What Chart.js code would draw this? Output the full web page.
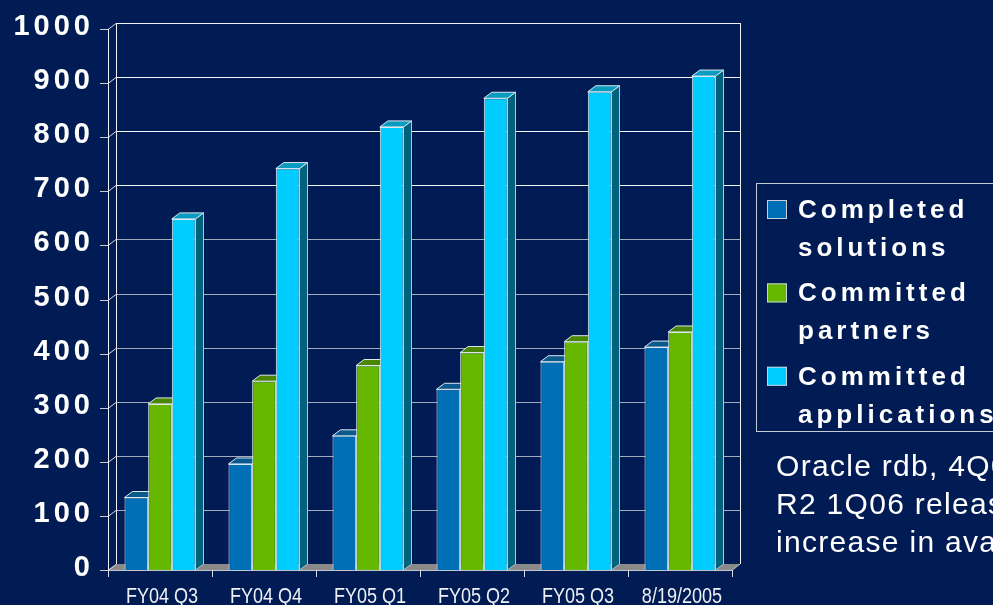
<!DOCTYPE html>
<html>
<head>
<meta charset="utf-8">
<script src="https://cdn.jsdelivr.net/npm/chart.js@4/dist/chart.umd.min.js"></script>
<style>
html,body{margin:0;padding:0;background:#011c54;overflow:hidden}
canvas{display:block}
</style>
</head>
<body>
<canvas id="c" width="993" height="605"></canvas>
<script>
// ---- data ----
const CATEGORIES = ['FY04 Q3', 'FY04 Q4', 'FY05 Q1', 'FY05 Q2', 'FY05 Q3', '8/19/2005'];
const COMPLETED_SOLUTIONS = [134, 196, 248, 334, 385, 412];
const COMMITTED_PARTNERS = [307, 349, 378, 402, 422, 440];
const COMMITTED_APPLICATIONS = [649, 742, 819, 872, 884, 913];
const Y_TICKS = [0, 100, 200, 300, 400, 500, 600, 700, 800, 900, 1000];
const SERIES_NAMES = ['Completed solutions', 'Committed partners', 'Committed applications'];
const LEGEND_LINES = [['Completed', 'solutions'], ['Committed', 'partners'], ['Committed', 'applications']];
const NOTE_LINES = ['Oracle rdb, 4Q05', 'R2 1Q06 release', 'increase in available'];

// ---- style ----
const BG = '#011c54';
const FRONT = ['#006fb5', '#66b700', '#00ccff'];
const TOPC = ['#0a5a8e', '#4a8600', '#0a9cc0'];
const SIDE = ['#04507f', '#3f7400', '#00627c'];
const DX = 8, DY = 6;

const threeD = {
  id: 'threeD',
  beforeDraw(chart) {
    const ctx = chart.ctx;
    ctx.save();
    ctx.fillStyle = BG;
    ctx.fillRect(0, 0, chart.width, chart.height);
    ctx.restore();
  },
  beforeDatasetsDraw(chart) {
    const ctx = chart.ctx;
    const ys = chart.scales.y;
    const L = chart.chartArea.left, R = chart.chartArea.right;
    const y0 = ys.getPixelForValue(0), yT = ys.getPixelForValue(1000);
    ctx.save();
    // floor
    ctx.fillStyle = '#8a8a8a';
    ctx.beginPath();
    ctx.moveTo(L, y0); ctx.lineTo(L + DX, y0 - DY); ctx.lineTo(R + DX, y0 - DY); ctx.lineTo(R, y0);
    ctx.closePath(); ctx.fill();
    // gridlines on back wall
    ctx.lineWidth = 1;
    Y_TICKS.forEach(v => {
      const py = Math.round(ys.getPixelForValue(v)) + 0.5;
      ctx.strokeStyle = v >= 700 ? '#f4f6fa' : '#a4abbd';
      if (v > 0) {
        ctx.beginPath(); ctx.moveTo(L + DX, py - DY); ctx.lineTo(R + DX, py - DY); ctx.stroke();
      }
      ctx.strokeStyle = '#d8dce6';
      ctx.beginPath(); ctx.moveTo(L, py); ctx.lineTo(L + DX, py - DY); ctx.stroke();
      ctx.strokeStyle = '#c8ccd6';
      ctx.beginPath(); ctx.moveTo(L - 8, py); ctx.lineTo(L, py); ctx.stroke();
    });
    // wall edges
    ctx.strokeStyle = '#f0f2f6';
    const bl = Math.round(L + DX) + 0.5, br = Math.round(R + DX) + 0.5, fl = Math.round(L) + 0.5;
    ctx.beginPath();
    ctx.moveTo(bl, yT - DY); ctx.lineTo(bl, y0 - DY);
    ctx.moveTo(bl, Math.round(yT - DY) + 0.5); ctx.lineTo(br, Math.round(yT - DY) + 0.5);
    ctx.moveTo(br, yT - DY); ctx.lineTo(br, y0 - DY);
    ctx.moveTo(fl, yT); ctx.lineTo(fl, y0);
    ctx.stroke();
    // floor front edge
    ctx.strokeStyle = '#c0c4cc';
    ctx.beginPath();
    ctx.moveTo(L, Math.round(y0) + 0.5); ctx.lineTo(R, Math.round(y0) + 0.5); ctx.lineTo(R + DX, y0 - DY);
    ctx.stroke();
    // x tick marks at category boundaries
    const xs = chart.scales.x;
    const step = xs.getPixelForValue(1) - xs.getPixelForValue(0);
    ctx.strokeStyle = '#d8dce6';
    for (let i = 0; i <= CATEGORIES.length; i++) {
      const px = Math.round(xs.getPixelForValue(0) - step / 2 + i * step) + 0.5;
      ctx.beginPath(); ctx.moveTo(px, y0); ctx.lineTo(px, y0 + 7); ctx.stroke();
    }
    // 3D tops and sides of bars (fronts drawn by Chart.js afterwards)
    chart.data.datasets.forEach((ds, di) => {
      const meta = chart.getDatasetMeta(di);
      meta.data.forEach(bar => {
        const p = bar.getProps(['x', 'y', 'width', 'base'], true);
        const l = p.x - p.width / 2, r = p.x + p.width / 2, t = p.y, b = p.base;
        ctx.fillStyle = SIDE[di];
        ctx.beginPath();
        ctx.moveTo(r, t); ctx.lineTo(r + DX, t - DY); ctx.lineTo(r + DX, b - DY); ctx.lineTo(r, b);
        ctx.closePath(); ctx.fill();
        ctx.strokeStyle = '#b8c4d0'; ctx.stroke();
        ctx.fillStyle = TOPC[di];
        ctx.beginPath();
        ctx.moveTo(l, t); ctx.lineTo(l + DX, t - DY); ctx.lineTo(r + DX, t - DY); ctx.lineTo(r, t);
        ctx.closePath(); ctx.fill();
        ctx.strokeStyle = '#dfe7ef'; ctx.stroke();
      });
    });
    ctx.restore();
  },
  afterDraw(chart) {
    const ctx = chart.ctx;
    const xs = chart.scales.x, ys = chart.scales.y;
    ctx.save();
    // y tick labels
    ctx.fillStyle = '#ffffff';
    ctx.font = 'bold 29px "Liberation Sans", Arial, sans-serif';
    ctx.letterSpacing = '4px';
    ctx.textAlign = 'right';
    ctx.textBaseline = 'alphabetic';
    Y_TICKS.forEach(v => {
      ctx.fillText(String(v), 94, ys.getPixelForValue(v) + 6);
    });
    // x category labels (narrow)
    ctx.letterSpacing = '0px';
    ctx.font = '22px "Liberation Sans", Arial, sans-serif';
    ctx.fillStyle = '#eef1f6';
    ctx.textAlign = 'center';
    CATEGORIES.forEach((c, i) => {
      ctx.save();
      ctx.translate(xs.getPixelForValue(i) + 2, 603);
      ctx.scale(0.82, 1);
      ctx.fillText(c, 0, 0);
      ctx.restore();
    });
    // legend
    ctx.strokeStyle = '#c4cad6';
    ctx.lineWidth = 1;
    ctx.strokeRect(756.5, 183.5, 300, 248);
    ctx.font = 'bold 26px "Liberation Sans", Arial, sans-serif';
    ctx.letterSpacing = '4px';
    ctx.textAlign = 'left';
    LEGEND_LINES.forEach((lines, i) => {
      const by = 218 + i * 83.4;
      ctx.fillStyle = chart.data.datasets[i].backgroundColor;
      ctx.fillRect(767, by - 18, 20, 19);
      ctx.strokeStyle = '#c8d0dc';
      ctx.strokeRect(767.5, by - 17.5, 19, 18);
      ctx.fillStyle = '#ffffff';
      ctx.fillText(lines[0], 798, by);
      ctx.fillText(lines[1], 798, by + 38);
    });
    // note
    ctx.font = '30px "Liberation Sans", Arial, sans-serif';
    ctx.letterSpacing = '1.3px';
    ctx.fillStyle = '#ffffff';
    NOTE_LINES.forEach((t, i) => ctx.fillText(t, 776, 476 + i * 38));
    ctx.restore();
  }
};

new Chart(document.getElementById('c'), {
  type: 'bar',
  data: {
    labels: CATEGORIES,
    datasets: [
      { label: SERIES_NAMES[0], data: COMPLETED_SOLUTIONS, backgroundColor: FRONT[0] },
      { label: SERIES_NAMES[1], data: COMMITTED_PARTNERS, backgroundColor: FRONT[1] },
      { label: SERIES_NAMES[2], data: COMMITTED_APPLICATIONS, backgroundColor: FRONT[2] }
    ]
  },
  options: {
    responsive: false,
    devicePixelRatio: 1,
    animation: false,
    layout: { padding: { left: 108, right: 261, top: 29, bottom: 35 } },
    datasets: {
      bar: {
        categoryPercentage: 0.683,
        barPercentage: 1.0,
        borderWidth: 1,
        borderColor: '#dfe6ee',
        borderSkipped: 'bottom'
      }
    },
    plugins: { legend: { display: false }, tooltip: { enabled: false }, title: { display: false } },
    scales: {
      x: { display: false },
      y: { display: false, min: 0, max: 1000 }
    }
  },
  plugins: [threeD]
});
</script>
</body>
</html>
